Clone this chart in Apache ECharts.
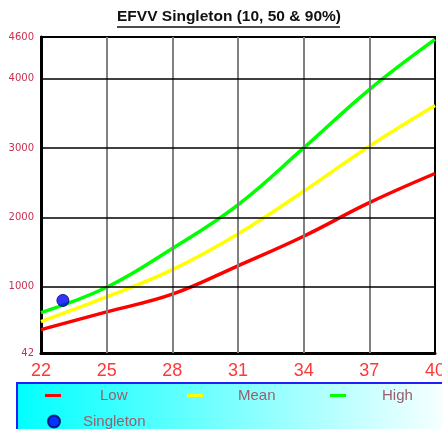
<!DOCTYPE html>
<html>
<head>
<meta charset="utf-8">
<script src="https://cdn.jsdelivr.net/npm/echarts@6/dist/echarts.min.js"></script>
<style>
html,body{margin:0;padding:0;background:#fff;overflow:hidden;}
#chart{width:442px;height:429px;}
</style>
</head>
<body>
<div id="chart"></div>
<script>
// ---- data ----
const xValues = [22, 25, 28, 31, 34, 37, 40];
const lowValues = [380, 635, 890, 1300, 1726, 2210, 2631];
const meanValues = [495, 850, 1245, 1760, 2375, 3025, 3612];
const highValues = [625, 990, 1550, 2180, 3000, 3842, 4565];
const singletonPoint = [23, 800];
const xTickLabels = [22, 25, 28, 31, 34, 37, 40];
const yTickLabels = [42, 1000, 2000, 3000, 4000, 4600];
const xGridValues = [25, 28, 31, 34, 37];
const yGridValues = [1000, 2000, 3000, 4000];
const titleText = 'EFVV Singleton (10, 50 & 90%)';

const pair = (vals) => xValues.map((x, i) => [x, vals[i]]);
const FONT = 'Liberation Sans, Arial, sans-serif';
const legendText = {color: '#9a5f6a', fontSize: 15, fontFamily: FONT};

const chart = echarts.init(document.getElementById('chart'), null, {renderer: 'canvas'});
const lineBase = {type: 'line', smooth: 0.4, showSymbol: false, symbol: 'none', z: 3};

function lineLegend(name, left, pad) {
  return {data: [name], left: left, top: 388, padding: 0, itemWidth: 16, itemHeight: 3, icon: 'rect',
    textStyle: Object.assign({padding: [0, 0, 0, pad]}, legendText)};
}

chart.setOption({
  animation: false,
  backgroundColor: '#fff',
  title: {
    text: titleText, left: 117, top: 9, padding: 0,
    textStyle: {fontFamily: FONT, fontSize: 15.5, fontWeight: 'bold', color: '#111',
      textShadowColor: '#e8a060', textShadowOffsetX: 1, textShadowOffsetY: 1, textShadowBlur: 0}
  },
  grid: {left: 41, right: 7, top: 37, bottom: 76, show: true, borderColor: '#000', borderWidth: 2,
    containLabel: false, outerBoundsMode: 'none'},
  xAxis: {
    type: 'value', min: 22, max: 40,
    axisLine: {show: true, onZero: false, lineStyle: {color: '#000', width: 3}},
    axisTick: {show: false}, splitLine: {show: false},
    axisLabel: {customValues: xTickLabels, color: '#ff3838', fontSize: 18, fontFamily: FONT, margin: 9,
      formatter: (v) => String(v)}
  },
  yAxis: {
    type: 'value', min: 42, max: 4600,
    axisLine: {show: true, onZero: false, lineStyle: {color: '#000', width: 3}},
    axisTick: {show: false}, splitLine: {show: false},
    axisLabel: {customValues: yTickLabels, color: '#c83050', fontSize: 10, fontFamily: 'DejaVu Sans, sans-serif',
      margin: 7, formatter: (v) => String(v)}
  },
  legend: [
    lineLegend('Low', 45, 34),
    lineLegend('Mean', 187, 30),
    lineLegend('High', 330, 31),
    {
      data: ['Singleton'], left: 47, top: 414, padding: 0,
      itemWidth: 12, itemHeight: 12, icon: 'circle',
      textStyle: Object.assign({padding: [0, 0, 0, 18]}, legendText)
    }
  ],
  graphic: [
    {type: 'rect', z: -1, shape: {x: 17, y: 383, width: 440, height: 60},
      style: {fill: new echarts.graphic.LinearGradient(0, 0, 1, 0, [
        {offset: 0, color: '#00ffff'}, {offset: 0.5, color: '#80ffff'}, {offset: 1, color: '#ffffff'}]),
        stroke: '#2020ff', lineWidth: 2}},
    {type: 'line', shape: {x1: 117, y1: 27, x2: 340, y2: 27}, style: {stroke: '#111', lineWidth: 1.5}}
  ],
  series: [
    {name: 'grid', type: 'line', data: [], z: 1, silent: true,
      markLine: {silent: true, symbol: ['none', 'none'], label: {show: false}, animation: false,
        data: [
          ...xGridValues.map(v => ({xAxis: v, lineStyle: {color: '#808080', width: 2, type: 'solid'}})),
          ...yGridValues.map(v => ({yAxis: v, lineStyle: {color: '#000', width: 1.5, type: 'solid'}}))
        ]}},
    Object.assign({name: 'Low', data: pair(lowValues), color: '#ff0000', lineStyle: {color: '#ff0000', width: 3.5}}, lineBase),
    Object.assign({name: 'Mean', data: pair(meanValues), color: '#ffff00', lineStyle: {color: '#ffff00', width: 3.5}}, lineBase),
    Object.assign({name: 'High', data: pair(highValues), color: '#00ff00', lineStyle: {color: '#00ff00', width: 3.5}}, lineBase),
    {name: 'Singleton', type: 'scatter', data: [singletonPoint], symbol: 'circle', symbolSize: 12, z: 5,
      itemStyle: {color: '#0000ff', borderColor: '#000060', borderWidth: 1}}
  ]
});
</script>
</body>
</html>
